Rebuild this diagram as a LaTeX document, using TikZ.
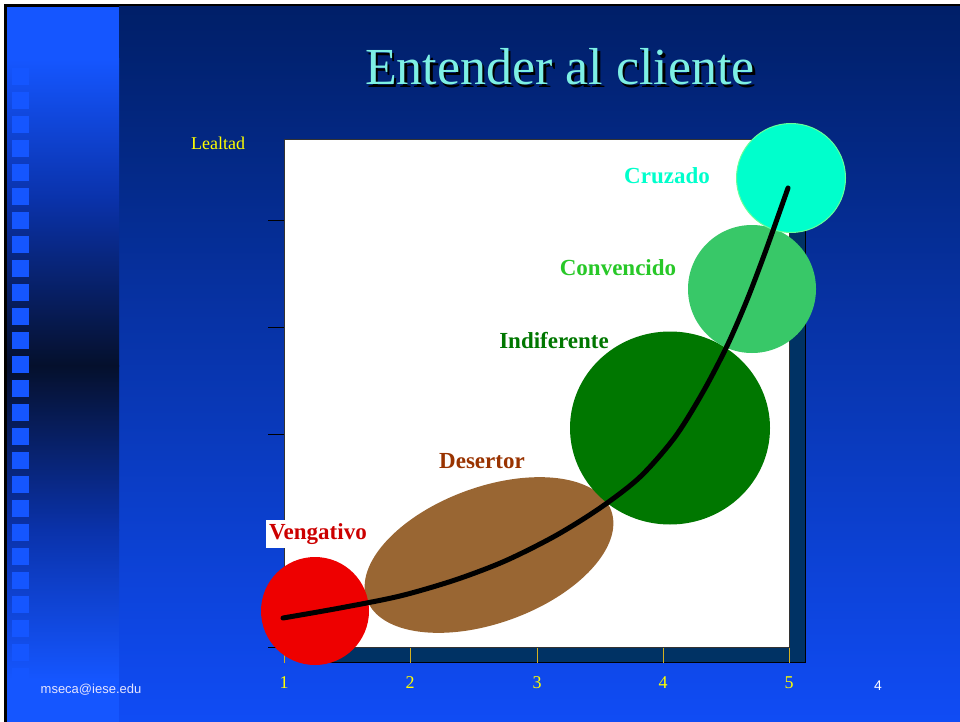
\documentclass[tikz,border=0pt]{standalone}
\usepackage{fontspec}
\setmainfont{Liberation Serif}
\newfontfamily\arialfont{Liberation Sans}
\usetikzlibrary{shapes.geometric}

\definecolor{navytop}{RGB}{0,31,104}
\definecolor{navymid}{RGB}{10,52,190}
\definecolor{slideblue}{RGB}{16,76,245}
\definecolor{stripmid}{RGB}{10,50,170}
\definecolor{stripdark}{RGB}{5,16,44}
\definecolor{squareblue}{RGB}{21,86,255}
\definecolor{shadowblue}{RGB}{0,50,100}
\definecolor{axisyellow}{RGB}{255,255,0}
\definecolor{tickgold}{RGB}{212,176,32}
\definecolor{titlecyan}{RGB}{125,240,228}
\definecolor{cruzcol}{RGB}{0,255,204}
\definecolor{cruzedge}{RGB}{102,255,153}
\definecolor{convtxt}{RGB}{40,200,40}
\definecolor{convcol}{RGB}{56,200,104}
\definecolor{indifcol}{RGB}{0,119,0}
\definecolor{desertxt}{RGB}{153,51,0}
\definecolor{desercol}{RGB}{153,102,51}
\definecolor{vengtxt}{RGB}{204,0,0}
\definecolor{vengcol}{RGB}{238,0,0}

\begin{document}
\begin{tikzpicture}[x=1pt, y=-1pt,
    blob/.style={inner sep=0pt, draw=none},
    lbl/.style={font=\fontsize{23}{26}\selectfont\bfseries, inner sep=1pt},
    axnum/.style={text=axisyellow, font=\fontsize{18}{20}\selectfont},
    sq/.style={fill=squareblue}]
  \useasboundingbox (0,0) rectangle (960,722);
  %Slide background
  \fill[white] (0,0) rectangle (960,722);
  \fill[black] (4,4) rectangle (960,722);
  \shade[top color=navytop, middle color=navymid, bottom color=slideblue] (119,7) rectangle (960,722);
  \fill[squareblue] (7,7) rectangle (119,60);
  \shade[top color=squareblue, bottom color=stripmid] (7,59) rectangle (119,200);
  \shade[top color=stripmid, bottom color=stripdark] (7,199) rectangle (119,366);
  \shade[top color=stripdark, bottom color=stripmid] (7,365) rectangle (119,530);
  \shade[top color=stripmid, bottom color=squareblue] (7,529) rectangle (119,680);
  \fill[squareblue] (7,679) rectangle (119,722);
  \foreach \k in {0,...,26}
    \fill[sq] (12,44+24*\k) rectangle (29,61+24*\k);

  %Title with its shadow
  \node[text=titlecyan, font=\fontsize{52}{56}\selectfont] (title) at (560,68)
    {\makebox[0pt][l]{\hspace{2.5pt}\raisebox{-2.5pt}{\color{black}Entender al cliente}}Entender al cliente};

  %Plot frame
  \fill[shadowblue, draw=black] (300,154) rectangle (805,662);
  \filldraw[fill=white, draw=black!80] (284,139) rectangle (789,647);
  \foreach \y in {220,327,434,541,647}
    \draw[black, thick] (268,\y) -- (284,\y);
  \foreach \x/\n in {284/1,410/2,537/3,663/4,789/5} {
    \draw[tickgold, thick] (\x,648) -- (\x,663);
    \node[axnum] (num\n) at (\x,683) {\n};
  }
  \node[text=axisyellow, font=\fontsize{18}{20}\selectfont] (lealtad) at (218,143) {Lealtad};

  %Customer types
  \node[blob, ellipse, fill=desercol, minimum width=260, minimum height=136, rotate=20] (desertor) at (489,555) {};
  \node[blob, circle, fill=vengcol, minimum size=108] (vengativo) at (315,611) {};
  \node[blob, ellipse, fill=indifcol, minimum width=200, minimum height=193] (indiferente) at (670,428) {};
  \node[blob, circle, fill=convcol, minimum size=128] (convencido) at (752,289) {};
  \node[blob, circle, fill=cruzcol, draw=cruzedge, line width=1pt, minimum size=109] (cruzado) at (791,178) {};

  %Loyalty curve
  \draw[line width=5pt, line cap=round] plot[smooth, tension=0.5] coordinates {(283,618) (340,608) (400,596) (455,580) (505,561) (555,536) (600,508) (640,477) (675,437) (703,392) (727,346) (747,300) (766,250) (788,188)};

  %Labels
  \node[lbl, text=cruzcol] (l-cruzado) at (667,176) {Cruzado};
  \node[lbl, text=convtxt] (l-convencido) at (618,268) {Convencido};
  \node[lbl, text=indifcol] (l-indiferente) at (554,341) {Indiferente};
  \node[lbl, text=desertxt] (l-desertor) at (482,461) {Desertor};
  \node[lbl, text=vengtxt, fill=white, minimum width=104, minimum height=28] (l-vengativo) at (318,534) {Vengativo};

  %Footer
  \node[text=white!90!blue, font=\arialfont\fontsize{13}{15}\selectfont] (mail) at (91,690) {mseca@iese.edu};
  \node[text=white, font=\arialfont\fontsize{14}{16}\selectfont] (page) at (878,686) {4};
\end{tikzpicture}
\end{document}
